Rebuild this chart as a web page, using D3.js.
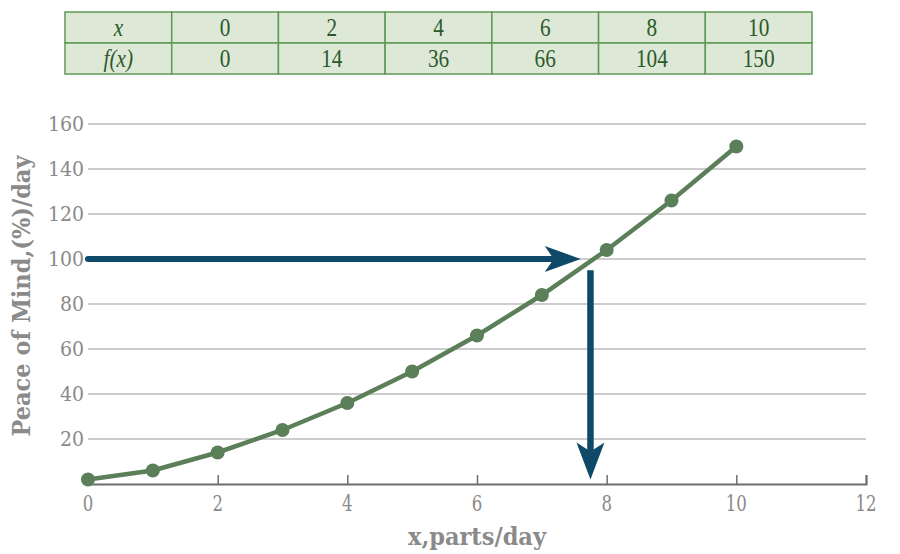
<!DOCTYPE html>
<html>
<head>
<meta charset="utf-8">
<script src="https://cdn.jsdelivr.net/npm/d3@7"></script>
<style>
  body { margin: 0; background: #fff; }
  svg { display: block; }
</style>
</head>
<body>
<svg id="chart" width="900" height="554"></svg>
<script>
// table values
const tableHeads = ["x", "f(x)"];
const tableX = [0, 2, 4, 6, 8, 10];
const tableF = [0, 14, 36, 66, 104, 150];

// curve points
const xs = [0, 1, 2, 3, 4, 5, 6, 7, 8, 9, 10];
const peace = [2, 6, 14, 24, 36, 50, 66, 84, 104, 126, 150];

// axis ticks
const xTicks = [0, 2, 4, 6, 8, 10, 12];
const yTicks = [20, 40, 60, 80, 100, 120, 140, 160];

// reading arrows (data coordinates)
const hArrow = { x1: 0, x2: 7.6, y: 100 };
const vArrow = { x: 7.75, y1: 95, y2: 2 };

const svg = d3.select("#chart");
const lineColor = "#5b7f59", arrowColor = "#0e4a67", greyText = "#8a8a8a";
const tickFont = "'DejaVu Serif Condensed', 'DejaVu Serif', serif";

const x = d3.scaleLinear().domain([0, 12]).range([88, 866]);
const y = d3.scaleLinear().domain([0, 160]).range([484, 124]);

// ---- table ----
const cols = d3.scaleBand().domain(d3.range(7)).range([65, 812]);
const rows = d3.scaleBand().domain([0, 1]).range([12, 74]);
const tbl = svg.append("g").attr("class", "table");
const cells = [];
[tableX, tableF].forEach((vals, r) => {
    cells.push({ r, c: 0, text: tableHeads[r], head: true });
    vals.forEach((v, i) => cells.push({ r, c: i + 1, text: v, head: false }));
});
tbl.selectAll("rect").data(cells).enter().append("rect")
    .attr("x", d => cols(d.c)).attr("y", d => rows(d.r))
    .attr("width", cols.bandwidth()).attr("height", rows.bandwidth())
    .style("fill", "#dde9d6").style("stroke", "#5c9a55").style("stroke-width", 1.5);
tbl.selectAll("text").data(cells).enter().append("text")
    .attr("transform", d => `translate(${cols(d.c) + cols.bandwidth() / 2},${rows(d.r) + rows.bandwidth() / 2 + 8}) scale(0.85,1)`)
    .attr("text-anchor", "middle")
    .style("font-family", "'Liberation Serif', 'Times New Roman', serif")
    .style("font-size", "25px")
    .style("font-style", d => d.head ? "italic" : "normal")
    .style("fill", "#2c5a2c")
    .text(d => d.text);

// ---- grid + y labels ----
svg.append("g").selectAll("line").data(yTicks).enter().append("line")
    .attr("x1", x(0)).attr("x2", x(12))
    .attr("y1", d => y(d)).attr("y2", d => y(d))
    .style("stroke", "#bdbdbd").style("stroke-width", 1.5);
svg.append("g").selectAll("text").data(yTicks).enter().append("text")
    .attr("x", 84).attr("y", d => y(d) + 7)
    .attr("text-anchor", "end")
    .style("font-family", tickFont).style("font-size", "21px")
    .style("fill", greyText)
    .text(d => d);

// ---- x axis ----
const xAxis = svg.append("g").attr("transform", `translate(0,${y(0)})`)
    .call(d3.axisTop(x).tickValues(xTicks).tickSize(9).tickFormat(""));
xAxis.select(".domain").style("stroke", "#6e6e6e").style("stroke-width", 2);
xAxis.selectAll(".tick line").style("stroke", "#6e6e6e").style("stroke-width", 1.5);
svg.append("g").selectAll("text").data(xTicks).enter().append("text")
    .attr("transform", d => `translate(${x(d)},511) scale(0.8,1)`)
    .attr("text-anchor", "middle")
    .style("font-family", tickFont).style("font-size", "23px")
    .style("fill", greyText)
    .text(d => d);

// ---- axis titles ----
svg.append("text")
    .attr("x", x(6)).attr("y", 545)
    .attr("text-anchor", "middle")
    .style("font-family", tickFont).style("font-size", "25px").style("font-weight", "bold")
    .style("fill", greyText)
    .text("x,parts/day");
svg.append("text")
    .attr("transform", "translate(30,296) rotate(-90)")
    .attr("text-anchor", "middle")
    .style("font-family", tickFont).style("font-size", "25px").style("font-weight", "bold")
    .style("fill", greyText)
    .text("Peace of Mind,(%)/day");

// ---- curve ----
const pts = xs.map((v, i) => [v, peace[i]]);
svg.append("path").datum(pts)
    .attr("d", d3.line().x(d => x(d[0])).y(d => y(d[1])))
    .style("fill", "none").style("stroke", lineColor).style("stroke-width", 4.5);
svg.append("g").selectAll("circle").data(pts).enter().append("circle")
    .attr("cx", d => x(d[0])).attr("cy", d => y(d[1])).attr("r", 7)
    .style("fill", lineColor);

// ---- arrows ----
const ax = svg.append("g").style("fill", arrowColor).style("stroke", arrowColor);
const hx2 = x(hArrow.x2), hy = y(hArrow.y);
ax.append("line")
    .attr("x1", x(hArrow.x1)).attr("x2", hx2 - 25)
    .attr("y1", hy).attr("y2", hy)
    .style("stroke-width", 6).style("stroke-linecap", "round");
ax.append("path")
    .attr("d", `M${hx2},${hy} L${hx2 - 36},${hy - 13} L${hx2 - 27},${hy} L${hx2 - 36},${hy + 13} Z`)
    .style("stroke", "none");

const vx = x(vArrow.x), vy2 = y(vArrow.y2);
ax.append("line")
    .attr("x1", vx).attr("x2", vx)
    .attr("y1", y(vArrow.y1)).attr("y2", vy2 - 25)
    .style("stroke-width", 6.5);
ax.append("path")
    .attr("d", `M${vx},${vy2} L${vx - 14},${vy2 - 37} L${vx},${vy2 - 28} L${vx + 14},${vy2 - 37} Z`)
    .style("stroke", "none");
</script>
</body>
</html>
